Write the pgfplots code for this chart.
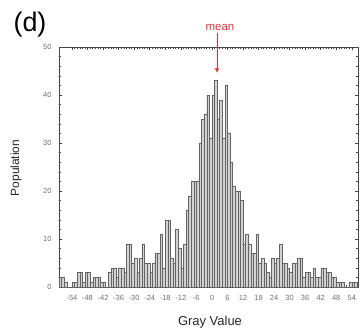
\documentclass[border=0pt]{standalone}
\usepackage{fontspec}
\setmainfont{Liberation Sans}
\usepackage{pgfplots}
\pgfplotsset{compat=1.18}
\usepackage{pgfplotstable}
\usetikzlibrary{arrows.meta}
\definecolor{barfill}{RGB}{210,210,210}
\definecolor{baredge}{RGB}{100,100,100}
\definecolor{meanred}{RGB}{232,45,55}
\definecolor{axisgray}{RGB}{70,70,70}
\definecolor{ticklab}{RGB}{110,110,110}

\pgfplotstableread{
x y
-58.5 2
-57.5 2
-56.5 1
-55.5 0
-54.5 0
-53.5 1
-52.5 1
-51.5 3
-50.5 3
-49.5 1
-48.5 3
-47.5 3
-46.5 1
-45.5 2
-44.5 2
-43.5 2
-42.5 1
-41.5 1
-40.5 0
-39.5 3
-38.5 4
-37.5 4
-36.5 2
-35.5 4
-34.5 4
-33.5 3
-32.5 9
-31.5 9
-30.5 5
-29.5 6
-28.5 3
-27.5 6
-26.5 9
-25.5 5
-24.5 5
-23.5 3
-22.5 5
-21.5 7
-20.5 7
-19.5 11
-18.5 4
-17.5 14
-16.5 14
-15.5 6
-14.5 5
-13.5 12
-12.5 8
-11.5 4
-10.5 9
-9.5 16
-8.5 19
-7.5 22
-6.5 22
-5.5 22
-4.5 30
-3.5 35
-2.5 36
-1.5 40
-0.5 31
0.5 40
1.5 43
2.5 35
3.5 39
4.5 31
5.5 42
6.5 32
7.5 26
8.5 21
9.5 20
10.5 20
11.5 18
12.5 9
13.5 11
14.5 9
15.5 7
16.5 7
17.5 11
18.5 5
19.5 6
20.5 5
21.5 3
22.5 2
23.5 6
24.5 5
25.5 6
26.5 9
27.5 5
28.5 5
29.5 4
30.5 3
31.5 5
32.5 5
33.5 6
34.5 6
35.5 2
36.5 3
37.5 3
38.5 2
39.5 4
40.5 2
41.5 2
42.5 4
43.5 4
44.5 3
45.5 3
46.5 2
47.5 2
48.5 1
49.5 1
50.5 1
51.5 0
52.5 0
53.5 1
54.5 1
55.5 1
}\histdata

\begin{document}
\begin{tikzpicture}
\useasboundingbox (-59bp,-48bp) rectangle (301bp,287bp);
\begin{axis}[
  scale only axis,
  width=299bp, height=240bp,
  at={(0,0)}, anchor=south west,
  xmin=-59, xmax=56.4, ymin=0, ymax=50,
  clip=false,
  axis line style={draw=axisgray, line width=0.6pt},
  tick align=inside,
  major tick length=3.5bp, minor tick length=2bp,
  every tick/.style={axisgray, line width=0.45pt},
  xtick={-54,-48,...,54}, minor x tick num=5,
  ytick={0,10,...,50}, minor y tick num=4,
  /pgf/number format/assume math mode=true,
  tick label style={font=\fontsize{7.5}{8}\selectfont, text=ticklab},
  xticklabel style={yshift=-5bp},
  yticklabel style={xshift=-4bp},
]
\addplot[ybar, bar width=1, bar shift=0pt, fill=barfill, draw=baredge, line width=0.35pt] table[x=x,y=y]{\histdata};
\draw[meanred, line width=0.6pt, -{Latex[length=4.5bp,width=4.5bp]}] (axis cs:2,52.9) -- (axis cs:2,44.6);
\end{axis}
\node[font=\fontsize{27}{30}\selectfont] at (-29bp,262bp) {(d)};
\node[font=\fontsize{11.5}{13}\selectfont, text=meanred] at (161bp,260bp) {mean};
\node[font=\fontsize{12}{14}\selectfont, text=black!85, rotate=90] at (-43bp,119bp) {Population};
\node[font=\fontsize{13}{15}\selectfont, text=black!85] at (151bp,-35bp) {Gray Value};
\end{tikzpicture}
\end{document}
